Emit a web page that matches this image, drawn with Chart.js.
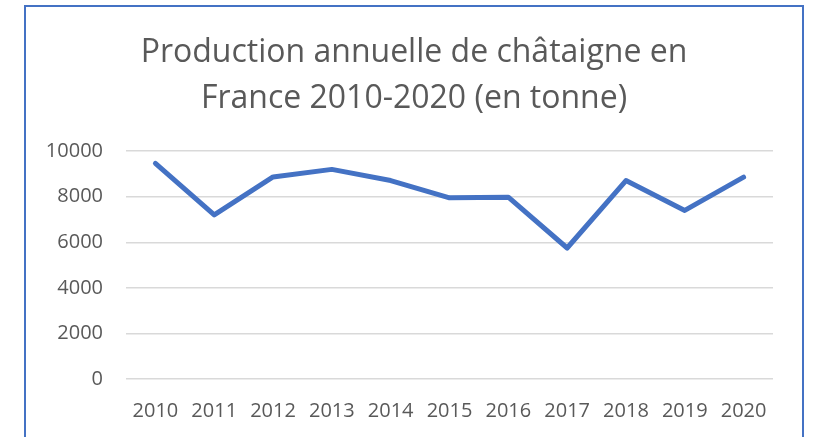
<!DOCTYPE html>
<html>
<head>
<meta charset="utf-8">
<script src="https://cdn.jsdelivr.net/npm/chart.js@4"></script>
<style>
  html, body { margin: 0; padding: 0; background: #fff; overflow: hidden; }
  #wrap { position: relative; width: 813px; height: 437px; overflow: hidden; }
  #frame { position: absolute; left: 24px; top: 5px; width: 776px; height: 500px; border: 2px solid #4472C4; box-sizing: content-box; }
  #chart { position: absolute; left: 0; top: 0; }
</style>
</head>
<body>
<div id="wrap">
  <div id="frame"></div>
  <canvas id="chart" width="828" height="437"></canvas>
</div>
<script>
const years = ['2010', '2011', '2012', '2013', '2014', '2015', '2016', '2017', '2018', '2019', '2020'];
const production = [9460, 7200, 8870, 9200, 8710, 7950, 7980, 5750, 8710, 7400, 8860];
const yTicks = [0, 2000, 4000, 6000, 8000, 10000];
const titleLines = ['Production annuelle de châtaigne en', 'France 2010-2020 (en tonne)'];

const grey = '#595959';

// canvas is 15px wider than the window so the title centres over the frame;
// an empty right axis keeps the plot off the right edge
new Chart(document.getElementById('chart'), {
    type: 'line',
    data: {
        labels: years,
        datasets: [{
            data: production,
            borderColor: '#4472C4',
            borderWidth: 5,
            borderCapStyle: 'round',
            borderJoinStyle: 'round',
            pointRadius: 0,
            tension: 0,
            fill: false
        }]
    },
    options: {
        responsive: false,
        animation: false,
        layout: { padding: { left: 0, right: 0, top: 0, bottom: 2 } },
        plugins: {
            legend: { display: false },
            tooltip: { enabled: false },
            title: {
                display: true,
                text: titleLines,
                color: grey,
                font: { family: 'Open Sans', size: 32, weight: 'normal', lineHeight: 1.44 },
                padding: { top: 30, bottom: 29 }
            }
        },
        scales: {
            x: {
                offset: true,
                grid: { display: false },
                border: { display: false },
                ticks: { color: grey, font: { family: 'Open Sans', size: 20 }, padding: 12, maxRotation: 0, autoSkip: false }
            },
            y: {
                min: 0,
                max: 10000,
                afterBuildTicks: (scale) => { scale.ticks = yTicks.map(v => ({ value: v })); },
                afterFit: (scale) => { scale.width = 126; },
                grid: { color: '#D9D9D9', lineWidth: 1.5, drawTicks: false },
                border: { display: false },
                ticks: { color: grey, font: { family: 'Open Sans', size: 20 }, padding: 23, callback: (v) => String(v) }
            },
            spacer: {
                type: 'linear',
                position: 'right',
                min: 0,
                max: 10000,
                afterFit: (scale) => { scale.width = 55; },
                grid: { display: false },
                border: { display: false },
                ticks: { display: false }
            }
        }
    }
});
</script>
</body>
</html>
